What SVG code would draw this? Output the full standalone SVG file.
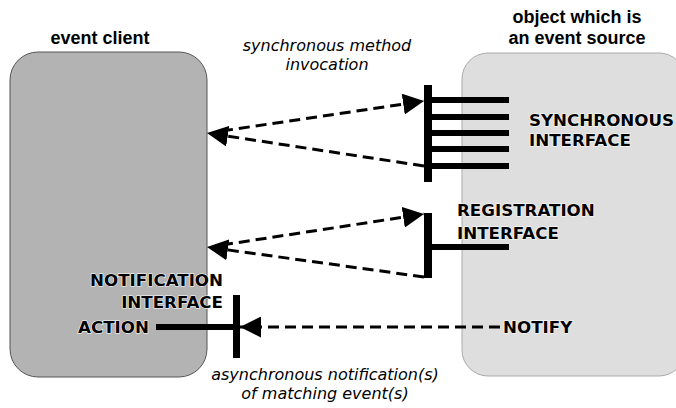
<svg xmlns="http://www.w3.org/2000/svg" width="676" height="408" viewBox="0 0 676 408">
<style>
.title{font-family:"Liberation Sans",Arial,sans-serif;font-weight:bold;font-size:18px;fill:#000;text-anchor:middle}
.note{font-family:"DejaVu Sans",Verdana,sans-serif;font-style:italic;font-size:16px;fill:#000;text-anchor:middle}
.cap{font-family:"DejaVu Sans",Verdana,sans-serif;font-weight:bold;font-size:16.7px;fill:#000;stroke:#fff;stroke-width:1.2px;paint-order:stroke}
.bar{fill:#000}
.dash{fill:none;stroke:#000;stroke-width:3;stroke-dasharray:11 6}
</style>
<defs>
<marker id="ah" markerUnits="userSpaceOnUse" markerWidth="21" markerHeight="21" refX="21" refY="10.5" orient="auto">
<path d="M0,0 L21,10.5 L0,21 Z" fill="#000"/>
</marker>
</defs>
<rect width="676" height="408" fill="#fff"/>
<g id="event-client">
<rect x="10" y="52" width="197" height="325" rx="28" ry="28" fill="#b3b3b3" stroke="#555" stroke-width="1"/>
<text class="title" x="100" y="44">event client</text>
</g>
<g id="event-source">
<rect x="462" y="53" width="223" height="323" rx="26" ry="26" fill="#dedede" stroke="#aaa" stroke-width="1"/>
<text class="title" x="577" y="23">object which is</text>
<text class="title" x="577" y="44">an event source</text>
</g>
<g id="synchronous-interface">
<rect class="bar" x="424" y="85" width="8" height="97"/>
<rect class="bar" x="428" y="97" width="81" height="6"/>
<rect class="bar" x="428" y="114" width="81" height="6"/>
<rect class="bar" x="428" y="130" width="81" height="6"/>
<rect class="bar" x="428" y="146" width="81" height="6"/>
<rect class="bar" x="428" y="163" width="81" height="6"/>
<text class="cap" x="529" y="126">SYNCHRONOUS</text>
<text class="cap" x="529" y="146">INTERFACE</text>
</g>
<g id="registration-interface">
<rect class="bar" x="424" y="213" width="8" height="65"/>
<rect class="bar" x="428" y="244" width="81" height="6"/>
<text class="cap" x="457" y="216">REGISTRATION</text>
<text class="cap" x="457" y="239">INTERFACE</text>
</g>
<g id="notification-interface">
<rect class="bar" x="233" y="295" width="7" height="63"/>
<rect class="bar" x="156" y="324" width="80" height="6"/>
<text class="cap" x="223" y="286" text-anchor="end">NOTIFICATION</text>
<text class="cap" x="223" y="308" text-anchor="end">INTERFACE</text>
<text class="cap" x="78" y="333">ACTION</text>
</g>
<g id="notify">
<text class="cap" x="503" y="333">NOTIFY</text>
</g>
<g id="connectors">
<line class="dash" x1="222" y1="131" x2="424" y2="101" marker-end="url(#ah)"/>
<line class="dash" x1="424" y1="166" x2="207" y2="133" marker-end="url(#ah)"/>
<line class="dash" x1="222" y1="245" x2="424" y2="214" marker-end="url(#ah)"/>
<line class="dash" x1="424" y1="277" x2="207" y2="247" marker-end="url(#ah)"/>
<line class="dash" x1="500" y1="327" x2="240" y2="327" marker-end="url(#ah)"/>
</g>
<g id="labels">
<text class="note" x="327" y="51">synchronous method</text>
<text class="note" x="327" y="70">invocation</text>
<text class="note" x="325" y="380">asynchronous notification(s)</text>
<text class="note" x="325" y="399">of matching event(s)</text>
</g>
</svg>
